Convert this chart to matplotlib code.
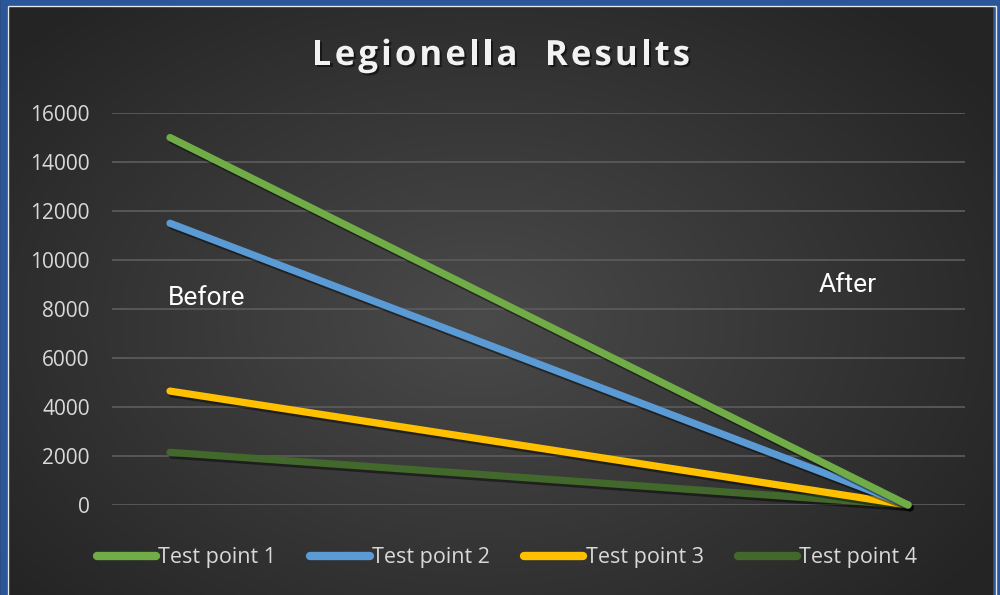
import numpy as np
import matplotlib
matplotlib.use("Agg")
import matplotlib.pyplot as plt
import matplotlib.patheffects as pe
from matplotlib.patches import Rectangle

# Data
stages = ["Before", "After"]
test_point_1 = [15000, 0]
test_point_2 = [11500, 0]
test_point_3 = [4650, 0]
test_point_4 = [2150, 0]
series_names = ["Test point 1", "Test point 2", "Test point 3", "Test point 4"]
series_colors = ["#70AD47", "#5B9BD5", "#FFC000", "#43682B"]
y_ticks = [0, 2000, 4000, 6000, 8000, 10000, 12000, 14000, 16000]
title = "Legionella  Results"

fig = plt.figure(figsize=(10, 5.95), dpi=100)

# dark radial-gradient background
bg = fig.add_axes([0, 0, 1, 1], zorder=-10)
yy, xx = np.mgrid[0:595, 0:1000]
r = np.sqrt(((xx - 480) / 620.0) ** 2 + ((yy - 320) / 420.0) ** 2)
r = np.clip(r, 0, 1)
shade = (74 - 38 * r) / 255.0
bg.imshow(np.dstack([shade, shade, shade]), extent=[0, 1, 0, 1], aspect="auto")
bg.set_xlim(0, 1)
bg.set_ylim(0, 1)
bg.axis("off")

# blue frame with thin white inner line
fig.patches.append(Rectangle((0.0035, -0.01), 0.993, 1.0065, transform=fig.transFigure,
                             fill=False, edgecolor="#2B579A", linewidth=5.5))
fig.patches.append(Rectangle((0.0075, -0.01), 0.9885, 1.0005, transform=fig.transFigure,
                             fill=False, edgecolor="#E8E8E8", linewidth=1.0))

ax = fig.add_axes([0.112, (595 - 505) / 595, 0.853, (505 - 113) / 595])
ax.patch.set_alpha(0)
for s in ax.spines.values():
    s.set_visible(False)

x = np.arange(len(stages))
all_series = [test_point_1, test_point_2, test_point_3, test_point_4]
# draw back to front so test point 1 sits on top of the fan
for vals, name, col in reversed(list(zip(all_series, series_names, series_colors))):
    ax.plot(x, vals, color=col, lw=5.2, solid_capstyle="round", label=name,
            clip_on=False,
            path_effects=[pe.SimpleLineShadow(offset=(1.5, -2), shadow_color="black", alpha=0.45),
                          pe.Normal()])

ax.set_xlim(-0.0786, 1.0772)
ax.set_ylim(0, 16000)
ax.set_yticks(y_ticks)
ax.set_yticklabels([str(v) for v in y_ticks], fontsize=15, color="#D9D9D9",
                   family=["Open Sans", "DejaVu Sans"])
ax.tick_params(axis="y", length=0, pad=16)
ax.set_xticks([])
ax.grid(axis="y", color="#5A5A5A", linewidth=1.3)
ax.set_axisbelow(True)

# stage labels written inside the plot
ax.text(-0.003, 8160, stages[0], fontsize=19, color="white", va="baseline",
        family=["Roboto", "DejaVu Sans"])
ax.text(0.879, 8700, stages[1], fontsize=19, color="white", va="baseline",
        family=["Roboto", "DejaVu Sans"])

# letter-spaced title, drawn one character at a time
renderer = fig.canvas.get_renderer()
title_kw = dict(fontsize=25, fontweight="bold", color="#F2F2F2", va="baseline",
                family=["Open Sans", "DejaVu Sans"],
                path_effects=[pe.withSimplePatchShadow(offset=(1.5, -1.5),
                                                       shadow_rgbFace="black", alpha=0.5)])


def text_w(s):
    t = fig.text(0, 0, s, **title_kw)
    w = t.get_window_extent(renderer).width
    t.remove()
    return w


natural_w = text_w(title)
extra = (378.0 - natural_w) / (len(title) - 1)
x0 = 312.0
ybase = (595 - 65) / 595
for i, ch in enumerate(title):
    if ch == " ":
        continue
    left = 0.0 if i == 0 else text_w(title[:i + 1]) - text_w(ch)
    fig.text((x0 + left + i * extra) / 1000, ybase, ch, **title_kw)

handles, labels = ax.get_legend_handles_labels()
leg = fig.legend(handles[::-1], labels[::-1], loc="center", bbox_to_anchor=(0.507, (595 - 558) / 595),
                 ncol=4, frameon=False, handlelength=2.75, handletextpad=0.1,
                 columnspacing=1.6, prop={"family": ["Open Sans", "DejaVu Sans"], "size": 15.5})
for t in leg.get_texts():
    t.set_color("#D9D9D9")
for h in leg.get_lines():
    h.set_path_effects([])
    h.set_linewidth(6)

fig.savefig("out.png", dpi=100)
